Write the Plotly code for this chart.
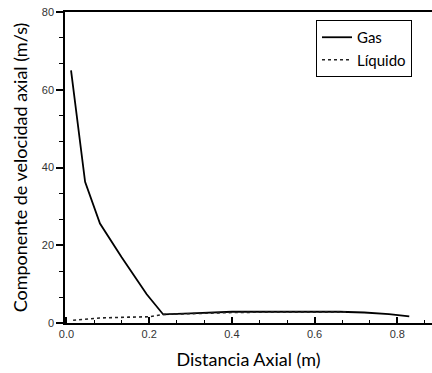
import plotly.graph_objects as go

gas_x = [0.011, 0.045, 0.081, 0.133, 0.194, 0.234, 0.30, 0.40, 0.50, 0.60, 0.66, 0.72, 0.78, 0.829]
gas_y = [65.0, 36.3, 25.6, 17.0, 7.4, 2.2, 2.5, 2.9, 2.9, 2.9, 2.9, 2.7, 2.3, 1.7]

liq_x = [0.016, 0.08, 0.15, 0.20, 0.234, 0.30, 0.40, 0.50, 0.60, 0.676]
liq_y = [0.7, 1.3, 1.5, 1.6, 2.2, 2.4, 2.7, 2.8, 2.8, 2.8]

x_ticks = [0.0, 0.2, 0.4, 0.6, 0.8]
x_ticklabels = ["0.0", "0.2", "0.4", "0.6", "0.8"]
y_ticks = [0, 20, 40, 60, 80]

fig = go.Figure()
fig.add_trace(go.Scatter(x=gas_x, y=gas_y, mode="lines", name="Gas",
                         line=dict(color="black", width=1.8)))
fig.add_trace(go.Scatter(x=liq_x, y=liq_y, mode="lines", name="Líquido",
                         line=dict(color="#222", width=1.6, dash="dot")))

tickfont = dict(family="Liberation Sans, Arial", size=11, color="#333")
fig.update_layout(
    width=432, height=373,
    margin=dict(l=65, r=0, t=12, b=50, autoexpand=False),
    paper_bgcolor="white", plot_bgcolor="white",
    showlegend=True,
    legend=dict(xref="paper", yref="paper", x=(316-65)/367, y=1-(20-12)/311,
                xanchor="left", yanchor="top",
                bordercolor="black", borderwidth=1, bgcolor="white",
                font=dict(family="Lato", size=15, color="black"),
                tracegroupgap=0, itemwidth=30),
    xaxis=dict(range=[-0.0036, 0.884], tickmode="array", tickvals=x_ticks, ticktext=x_ticklabels,
               tickfont=tickfont, ticks="inside", ticklen=6, tickwidth=1.5, tickcolor="black",
               ticklabelstandoff=0,
               showline=True, linecolor="black", linewidth=1.5, mirror=True,
               showgrid=False, zeroline=False,
               minor=dict(tickmode="linear", dtick=0.2/3, tick0=0, ticks="inside", ticklen=3,
                          tickwidth=1, tickcolor="black", showgrid=False),
               title=dict(text="Distancia Axial (m)", font=dict(family="Lato", size=18, color="black"),
                          standoff=14)),
    yaxis=dict(range=[0, 80], tickmode="array", tickvals=y_ticks, tickfont=tickfont,
               ticks="outside", ticklen=7, tickwidth=1.5, tickcolor="black",
               showline=True, linecolor="black", linewidth=1.5,
               showgrid=False, zeroline=False,
               minor=dict(tickmode="linear", dtick=20/3, tick0=0, ticks="outside", ticklen=4,
                          tickwidth=1, tickcolor="black", showgrid=False),
               title=dict(text="Componente de velocidad axial (m/s)",
                          font=dict(family="Lato", size=18, color="black"), standoff=9)),
)

fig.write_html("out.html")
